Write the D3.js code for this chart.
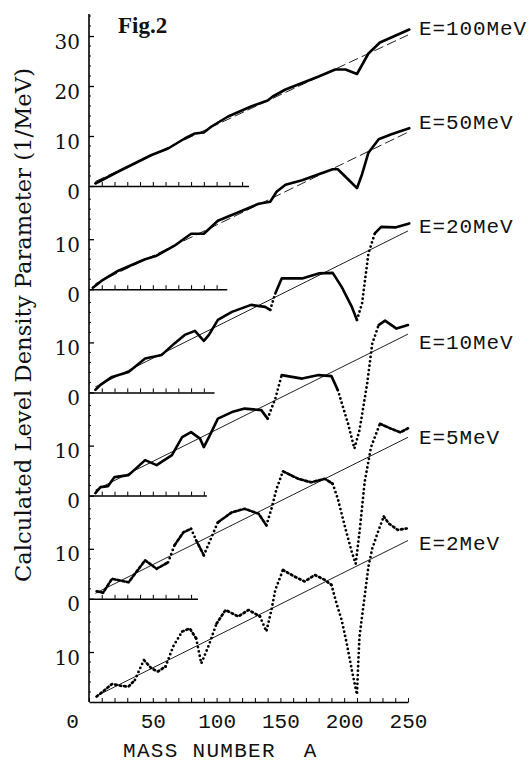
<!DOCTYPE html>
<html>
<head>
<meta charset="utf-8">
<script src="https://cdnjs.cloudflare.com/ajax/libs/d3/7.8.5/d3.min.js"></script>
<style>
body { margin: 0; background: #fff; }
</style>
</head>
<body>
<script>
var width = 529;
var height = 763;

// level density parameter (1/MeV), [mass number A, value]
var energies = ["E=100MeV", "E=50MeV", "E=20MeV", "E=10MeV", "E=5MeV", "E=2MeV"];
var e100 = [[5,0.5],[23,2.9],[49,6.2],[62,7.5],[75,9.5],[83,10.5],[90,10.7],[96,11.9],[109,13.9],[127,15.9],[140,17.1],[144,17.9],[154,19.3],[180,21.9],[193,23.3],[201,23.3],[210,22.4],[219,26.5],[228,28.7],[251,31.3]];
var e50 = [[3,0.3],[10,1.7],[23,3.7],[44,6],[53,6.7],[67,8.7],[80,11.1],[90,11.1],[101,13.7],[120,15.7],[133,17.1],[142,17.5],[147,19.5],[154,20.9],[167,21.8],[180,23],[191,24],[195,24],[203,22],[210,20.2],[214,23],[219,27.3],[227,30],[237,31],[251,32.2]];
var e20 = [[5,0.5],[9,1.5],[18,3.1],[31,4.1],[44,6.8],[57,7.5],[67,9.8],[75,11.5],[83,12.3],[90,10.3],[94,11.5],[101,14.5],[112,16.1],[127,17.5],[138,17.1],[142,16.5],[146,19.8],[151,22.8],[167,22.8],[180,23.8],[191,23.9],[198,21.1],[206,17.1],[210,14.5],[214,17.8],[219,27.8],[224,31.8],[229,33.1],[240,33],[251,33.8]];
var e10 = [[5,0.5],[9,1.7],[15,1.9],[20,3.7],[31,4.1],[44,7.1],[53,6.1],[65,8.1],[73,11.7],[80,12.7],[87,11.4],[90,9.7],[94,11.7],[101,15.4],[112,16.7],[122,17.4],[135,17.1],[140,15.4],[146,19.4],[151,24.1],[167,23.4],[180,24.1],[190,23.9],[195,21.1],[203,14.4],[208,9.4],[212,13.1],[218,22.4],[222,30.4],[227,34.1],[232,35],[241,33.4],[250,34.1]];
var e5 = [[6,1.5],[11,1.2],[18,4],[31,3.3],[44,7.7],[53,6],[62,7.3],[67,10.7],[74,13.3],[80,14],[84,11.7],[90,8.7],[95,11.7],[101,15.3],[112,17.3],[122,18],[133,17],[139,14.7],[143,18],[147,22],[152,25.5],[164,24],[174,23.3],[185,24],[191,23],[195,20],[201,14],[206,9.3],[209,7],[212,13.3],[216,23.3],[221,30.3],[228,35],[237,34],[244,33.3],[250,34.1]];
var e2 = [[6,1.1],[10,1.9],[18,3.6],[26,3.2],[31,3.1],[36,4.4],[43,8.4],[49,6.7],[54,6.1],[60,7.1],[66,11.1],[73,14.1],[79,14.7],[84,12.7],[88,7.7],[94,11.4],[100,15.7],[107,18.4],[117,17.1],[125,18.4],[134,17.1],[139,14.1],[143,18.4],[146,22.4],[152,26.4],[161,25.1],[169,24.1],[177,25.4],[185,24.4],[190,23.4],[194,19.7],[198,16.4],[202,11.7],[205,7.7],[207,5.1],[210,1.5],[211,7.7],[212,13.1],[215,19.1],[219,27.1],[222,30.7],[227,34.4],[231,37.1],[235,35.7],[242,34.4],[249,34.7]];
var series = [e100, e50, e20, e10, e5, e2];

// straight reference line of each panel: value at A = 5 and A = 250
var refA = [5, 250];
var refValues = [[0.9, 30.2], [1.1, 31.4], [1.1, 32.3], [1.1, 32.3], [1.1, 32.3], [1.1, 32.3]];

// each panel's zero line runs out to this mass number
var baselineEnd = [125, 108, 98, 92, 85, 250];
var yTicks = [[0, 10, 20, 30], [0, 10], [0, 10], [0, 10], [0, 10], [10]];
var xTicks = [0, 50, 100, 150, 200, 250];

// layout / style per panel
var top0 = 186, step = 103.2;
var refDash = ["10,4", "10,4", null, null, null, null];
var steepLimit = [99, 99, 0.75, 0.6, 0.5, 0.4];
var flatDash = [null, null, null, null, "2.6,2.2", "1.6,3"];
var labelDy = [-151, -160, -159, -147, -155, -152];

var svg = d3.select("body").append("svg")
  .attr("width", width)
  .attr("height", height);

var x = d3.scaleLinear().domain([0, 250]).range([89, 408]);

function splitSteep(data, limit) {
  var out = [], cur = [data[0]], steep = null;
  for (var k = 1; k < data.length; k++) {
    var a = data[k - 1], b = data[k];
    var s = Math.abs((b[1] - a[1]) / (b[0] - a[0])) > limit;
    if (steep === null) steep = s;
    if (s !== steep) { out.push({steep: steep, pts: cur}); cur = [a]; steep = s; }
    cur.push(b);
  }
  out.push({steep: steep, pts: cur});
  return out;
}

series.forEach(function(data, i) {
  var base = top0 + i * step;
  var y = d3.scaleLinear().domain([0, 10]).range([base, base - 50]);
  var g = svg.append("g");

  // zero line with upward ticks
  if (i < 5) {
    var xs = x.copy().domain([0, baselineEnd[i]]).range([x(0), x(baselineEnd[i])]);
    g.append("g")
      .attr("transform", "translate(0," + base + ")")
      .call(d3.axisBottom(xs).tickValues(d3.range(10, baselineEnd[i] + 1, 10))
        .tickSizeInner(-4).tickSizeOuter(0).tickFormat(""))
      .call(function(s) { s.select(".domain").attr("stroke-width", 1.5); });
  }

  // y ticks of this panel
  g.append("g")
    .attr("transform", "translate(" + x(0) + ",0)")
    .call(d3.axisLeft(y).tickValues(yTicks[i]).tickSizeInner(-5).tickSizeOuter(0).tickPadding(9))
    .call(function(s) {
      s.select(".domain").remove();
      s.selectAll("line").attr("stroke-width", 1.3);
      s.selectAll("text").attr("dy", "0.6em")
        .style("font-family", "DejaVu Serif").style("font-size", "20px").attr("fill", "#111");
    });

  var minor = d3.range(2, i === 0 ? 36 : 20, 2).filter(function(v) { return v % 10 !== 0; });
  g.selectAll(".minor").data(minor).enter().append("line")
    .attr("x1", x(0)).attr("x2", x(0) + 2)
    .attr("y1", function(d) { return y(d); }).attr("y2", function(d) { return y(d); })
    .attr("stroke", "#111").attr("stroke-width", 1);

  // reference line
  var line = d3.line().x(function(d) { return x(d[0]); }).y(function(d) { return y(d[1]); });
  g.append("path")
    .datum(refA.map(function(a, k) { return [a, refValues[i][k]]; }))
    .attr("d", line)
    .attr("fill", "none").attr("stroke", "#222").attr("stroke-width", 1)
    .attr("stroke-dasharray", refDash[i]);

  // calculated curve: steep parts come out as separated dots
  splitSteep(data, steepLimit[i]).forEach(function(seg) {
    g.append("path")
      .datum(seg.pts)
      .attr("d", line)
      .attr("fill", "none").attr("stroke", "#000")
      .attr("stroke-linecap", "round").attr("stroke-linejoin", "round")
      .attr("stroke-width", seg.steep ? 2.8 : (i < 4 ? 2.6 : 2.7))
      .attr("stroke-dasharray", seg.steep ? "0,4.4" : flatDash[i]);
  });

  g.append("text")
    .attr("x", 419).attr("y", base + labelDy[i])
    .style("font-family", "Liberation Mono").style("font-size", "21px")
    .style("letter-spacing", "0.9px").attr("fill", "#111")
    .text(energies[i]);
});

// bottom axis
var bottom = top0 + 5 * step;
svg.append("g")
  .attr("transform", "translate(0," + bottom + ")")
  .call(d3.axisBottom(x).tickValues(d3.range(0, 251, 10))
    .tickSizeInner(-4).tickSizeOuter(0).tickPadding(11)
    .tickFormat(function(d) { return xTicks.indexOf(d) >= 0 ? d : ""; }))
  .call(function(s) {
    s.select(".domain").attr("stroke-width", 1.5);
    s.selectAll("text").style("font-family", "Liberation Mono").style("font-size", "21px").attr("fill", "#111");
    s.selectAll(".tick").filter(function(d) { return d === 0; }).select("text").attr("x", -17);
  });

// y axis line
svg.append("line")
  .attr("x1", x(0)).attr("x2", x(0))
  .attr("y1", 14).attr("y2", bottom)
  .attr("stroke", "#000").attr("stroke-width", 1.6);

svg.append("text")
  .attr("x", 123).attr("y", 757)
  .attr("xml:space", "preserve").style("white-space", "pre")
  .style("font-family", "Liberation Mono").style("font-size", "21px")
  .style("letter-spacing", "1.3px").attr("fill", "#111")
  .text("MASS NUMBER  A");

svg.append("text")
  .attr("transform", "translate(31,325) rotate(-90)")
  .attr("text-anchor", "middle")
  .attr("textLength", 514).attr("lengthAdjust", "spacingAndGlyphs")
  .style("font-family", "DejaVu Serif").style("font-size", "22px").attr("fill", "#111")
  .text("Calculated Level Density Parameter (1/MeV)");

svg.append("text")
  .attr("x", 118).attr("y", 33)
  .style("font-family", "Liberation Serif").style("font-weight", "bold").style("font-size", "23px")
  .attr("fill", "#111")
  .text("Fig.2");
</script>
</body>
</html>
